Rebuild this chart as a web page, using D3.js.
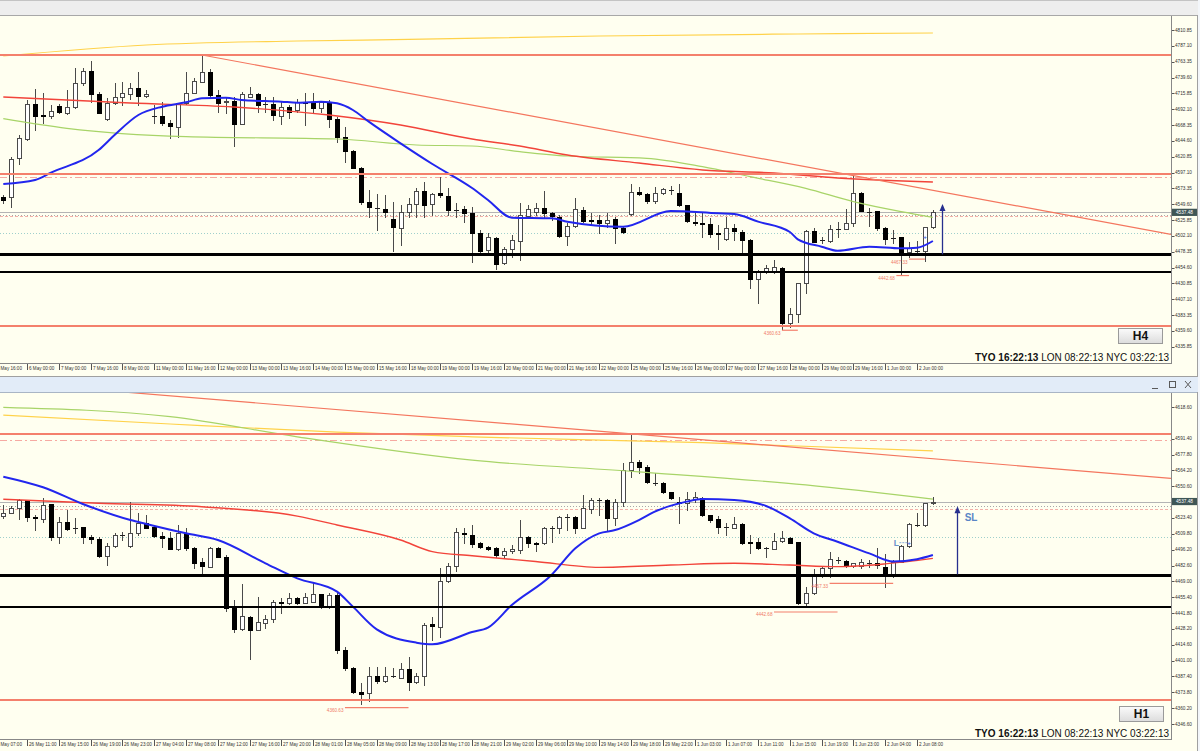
<!DOCTYPE html>
<html><head><meta charset="utf-8">
<script src="https://cdn.jsdelivr.net/npm/d3@7"></script>
<style>
body{margin:0;background:#f0f0f0;overflow:hidden}
svg{display:block}
text{font-family:"Liberation Sans",Arial,sans-serif}
</style></head>
<body><svg id="c" width="1200" height="751"></svg>
<script>
// ---------------- DATA ----------------
// XAUUSD H4 candles [open, high, low, close]
const topOHLC = [
[4560,4563.5,4552,4556],[4560,4621,4546,4617.5],[4618.5,4653.5,4610,4648.5],[4647.5,4706,4646,4700],
[4700,4722,4661,4682],[4683,4717,4671,4682],[4682.5,4698.5,4678.5,4690],[4697,4699.5,4686,4687.5],
[4687,4721,4685,4696],[4696,4753.5,4693.5,4731],[4732,4753.5,4728.5,4749.5],[4749.5,4764.5,4703.5,4715],
[4715,4718.5,4686,4687],[4677.5,4708.5,4676,4702],[4701,4732,4700,4711],[4711,4733.5,4698.5,4716],
[4715,4731,4707,4723.5],[4723.5,4748.5,4698.5,4712],[4712,4721,4710,4715],[4682,4698.5,4671,4681.5],
[4682,4703.5,4668.5,4671],[4671,4676,4648.5,4667],[4666,4701,4650,4700],[4701,4747.5,4700,4716],
[4716,4738.5,4716,4734.5],[4733.5,4773.5,4733.5,4748.5],[4748.5,4752,4711,4713.5],[4713.5,4721,4688.5,4702],
[4702.5,4711,4686,4705],[4705,4711,4637,4670],[4670,4718.5,4670,4714.5],[4711,4726,4710,4714.5],
[4714.5,4716,4688.5,4698.5],[4700,4711,4688.5,4699.5],[4700,4710,4676,4683.5],[4682.5,4703.5,4670,4695],
[4695,4698.5,4678.5,4688.5],[4691,4707,4688.5,4703.5],[4703.5,4716,4668.5,4701],[4701,4717,4688.5,4693.5],
[4693.5,4705,4688.5,4702.5],[4702.5,4706,4666,4677.5],[4677.5,4681,4643.5,4651],[4651,4665,4613.5,4629.5],
[4629.5,4631,4603.5,4604.5],[4604.5,4606,4550,4552.5],[4552.5,4571,4531,4545],[4544,4565,4511,4543.5],
[4543,4563.5,4531,4538.5],[4528,4553.5,4480,4515],[4513.5,4548.5,4488.5,4538.5],[4538.5,4558.5,4530,4549.5],
[4549.5,4573.5,4531,4570],[4570,4583.5,4531,4548.5],[4549.5,4566,4533.5,4565],[4567,4590,4561,4563],
[4562,4573.5,4533.5,4541],[4541,4551,4530,4540.5],[4542,4547,4523.5,4536],[4536,4546,4463.5,4507],
[4507,4511,4478.5,4480],[4481,4507,4476,4500],[4499,4501,4452,4460],[4461,4486,4460,4482.5],
[4482.5,4503.5,4471,4496],[4494.5,4551,4466,4533.5],[4532.5,4548.5,4528.5,4542],[4537.5,4551,4533.5,4544.5],
[4543.5,4570,4531,4537],[4537,4538.5,4526,4532],[4531,4533.5,4501,4502.5],[4502.5,4521,4488.5,4517.5],
[4517.5,4558.5,4515,4542],[4541,4546,4523.5,4525],[4525.5,4536,4518.5,4525],[4526,4533.5,4506,4521],
[4521,4536,4516,4526],[4527,4531,4491,4513.5],[4513.5,4516,4506,4508.5],[4535,4579.5,4533.5,4568.5],
[4568.5,4576,4563.5,4564.5],[4564.5,4566,4551,4555],[4555,4576,4551,4567],[4567,4573.5,4565,4572],
[4571,4577,4565,4570.5],[4566,4579.5,4547.5,4548.5],[4548.5,4548.5,4523.5,4524.5],[4522.5,4538.5,4518.5,4522],
[4522,4538.5,4501,4520.5],[4519.5,4528.5,4501,4504.5],[4506,4518.5,4482.5,4505.5],[4497.5,4531,4496,4514.5],
[4513.5,4519.5,4496,4509.5],[4508.5,4511,4476,4496],[4496,4497,4423.5,4438],[4438,4451,4401,4448.5],
[4449.5,4458.5,4446,4454.5],[4450,4466,4446,4455],[4454.5,4456,4362,4371],[4371,4394.5,4366,4385],
[4385,4431,4373.5,4431],[4431,4511,4417,4510],[4509.5,4513.5,4493.5,4493.5],[4496,4501,4491,4495.5],
[4494.5,4518.5,4492.5,4512],[4513,4523.5,4501,4512.5],[4513,4542,4512,4522],[4521,4595,4517.5,4566],
[4566,4567.5,4540,4540],[4538.5,4543.5,4517.5,4538],[4539.5,4540,4511,4513.5],[4513.5,4515,4490,4497],
[4499.5,4511,4491,4499],[4501,4501,4443,4478.5],[4478.5,4493.5,4471,4484.5],[4480,4494.5,4477,4479.5],
[4480,4516,4465,4516],[4516,4541,4514.5,4537.48]
];
// XAUUSD H1 candles [open, high, low, close]
const bottomOHLC = [
[4525.4,4534.5,4523.1,4527.4],[4527.9,4533.7,4527.4,4531.6],[4531.6,4539.4,4522.2,4538.8],[4538.8,4538.8,4521.1,4523.9],
[4523.9,4525.9,4513.1,4523.1],[4522.2,4540.2,4520.2,4534.5],[4535.1,4535.4,4504.5,4507.3],[4506.8,4523.9,4501.6,4520.2],
[4520.2,4530.2,4513.1,4513.9],[4515.1,4523.1,4510.2,4514.8],[4515.3,4515.9,4502.2,4506.8],[4506.8,4508.8,4502.2,4505.1],
[4505.1,4507.3,4490.2,4491.0],[4491.0,4501.6,4483.0,4499.3],[4499.3,4510.2,4498.8,4509.1],[4508.8,4511.6,4504.5,4508.5],
[4499.3,4537.4,4498.8,4510.8],[4510.8,4527.4,4508.8,4519.4],[4519.4,4525.9,4514.5,4515.1],[4515.3,4517.3,4507.3,4507.9],
[4507.9,4511.6,4498.8,4505.9],[4505.9,4511.6,4496.5,4496.8],[4496.8,4517.3,4495.9,4510.2],[4510.2,4514.5,4495.9,4497.3],
[4497.3,4498.8,4480.2,4485.0],[4485.3,4488.7,4475.9,4482.5],[4481.6,4498.8,4481.6,4497.9],[4497.9,4498.8,4490.2,4490.2],
[4490.2,4491.6,4443.8,4445.9],[4445.9,4453.0,4425.8,4428.1],[4428.1,4466.7,4427.3,4439.3],[4438.7,4439.3,4402.1,4427.3],
[4427.3,4455.3,4427.3,4434.4],[4433.6,4440.1,4428.7,4436.7],[4436.7,4453.0,4434.4,4451.0],[4451.0,4454.4,4441.6,4450.7],
[4450.1,4458.7,4449.6,4454.4],[4454.4,4455.9,4449.6,4450.7],[4450.7,4458.7,4450.1,4455.9],[4451.6,4467.3,4451.6,4458.1],
[4457.9,4458.1,4445.9,4446.7],[4446.7,4458.7,4445.9,4457.3],[4457.3,4458.7,4407.2,4410.1],[4410.1,4413.0,4392.9,4394.4],
[4394.4,4395.8,4372.9,4374.4],[4374.4,4381.5,4364,4372.3],[4372.9,4395.8,4366,4387.8],[4387.8,4395.8,4381.5,4383.8],
[4383.8,4395.8,4382.9,4387.8],[4387.8,4394.4,4387.2,4387.5],[4386.4,4398.7,4385.8,4393.5],[4393.5,4403.8,4375.8,4382.9],
[4382.9,4390.1,4381.5,4387.8],[4387.8,4433.5,4380.1,4431.5],[4432.4,4438.7,4418.7,4430.7],[4429.5,4480.2,4421.5,4469.3],
[4469.3,4484.5,4468.7,4482.5],[4482.5,4514.5,4478.2,4511.1],[4510.8,4514.5,4501.6,4509.3],[4508.8,4517.3,4498.8,4501.0],
[4501.6,4503.0,4497.3,4498.2],[4498.2,4499.3,4495.9,4496.5],[4497.6,4498.8,4490.2,4491.3],[4491.3,4497.3,4490.2,4495.3],
[4495.3,4500.2,4493.0,4496.5],[4495.9,4521.6,4493.0,4506.8],[4506.8,4507.9,4498.8,4501.6],[4501.6,4503.0,4495.3,4501.3],
[4501.6,4515.9,4501.0,4514.5],[4515.1,4516.5,4503.0,4514.8],[4515.1,4525.1,4510.8,4523.9],[4524.5,4526.8,4513.1,4524.2],
[4524.5,4525.1,4510.8,4515.1],[4515.1,4543.1,4514.5,4531.6],[4531.1,4540.8,4527.4,4538.8],[4538.8,4540.2,4525.9,4538.5],
[4538.8,4539.4,4513.1,4523.1],[4523.1,4539.4,4517.4,4537.4],[4537.4,4570.8,4533.7,4564.5],[4564.5,4596.0,4558.2,4571.7],
[4571.7,4573.1,4561.7,4567.4],[4567.4,4568.8,4553.1,4554.0],[4553.7,4561.7,4551.7,4553.4],[4553.1,4554.5,4544.5,4545.4],
[4545.4,4546.0,4539.7,4540.2],[4537.4,4541.7,4518.8,4535.9],[4535.9,4546.0,4530.2,4539.4],[4539.4,4546.0,4537.4,4541.1],
[4540.8,4541.7,4525.1,4525.9],[4525.9,4525.9,4520.2,4521.6],[4522.2,4525.1,4510.2,4515.9],[4515.9,4519.4,4508.8,4515.6],
[4514.5,4524.5,4514.5,4518.2],[4518.2,4519.4,4501.0,4501.6],[4502.5,4508.8,4493.0,4502.2],[4503.0,4505.9,4496.5,4497.3],
[4497.9,4498.8,4490.2,4497.6],[4496.5,4510.8,4496.5,4503.9],[4503.9,4512.5,4503.0,4505.9],[4505.9,4506.8,4501.6,4502.2],
[4502.5,4503.0,4449.6,4450.1],[4450.1,4464.4,4448.7,4458.7],[4458.7,4479.3,4458.1,4474.5],[4474.5,4481.6,4473.0,4480.2],
[4480.2,4494.5,4473.0,4487.9],[4487.3,4490.2,4484.5,4487.0],[4486.7,4487.3,4481.6,4482.5],[4482.5,4485.0,4481.6,4484.5],
[4482.2,4487.9,4480.2,4485.9],[4485.0,4487.3,4481.6,4484.7],[4484.5,4497.3,4480.2,4483.0],[4481.6,4492.5,4463.9,4474.5],
[4475.3,4487.3,4473.0,4485.9],[4485.9,4500.2,4485.9,4499.3],[4499.3,4518.8,4498.8,4517.9],[4517.4,4527.4,4516.5,4517.1],
[4517.1,4536.5,4516.5,4535.9],[4535.9,4541.7,4535.4,4537.48]
];

// moving averages, read as [bar, value]
const topYellowMA = [[0,4772],[18,4788.5],[37,4794.5],[51,4796.8],[75,4802],[100,4805],[117,4806.5]];
const topGreenMA  = [[0,4678],[8,4663.5],[23,4651],[42,4647.5],[52,4638.5],[59,4637],[65,4628.5],[71,4622],[81,4618.5],[88,4606],[94,4591],[101,4573.5],[107,4553.5],[113,4538.5],[117,4530]];
const topRedMA    = [[0,4710.5],[16,4701.5],[29,4695.5],[41,4683.5],[50,4668.5],[59,4647.5],[65,4637],[71,4623.5],[80,4611.5],[88,4601],[97,4596.5],[105,4589],[117,4583]];
const topBlueMA   = [[0,4580],[4,4586],[6,4597],[12,4631],[14,4653.5],[17,4683.5],[20,4696],[23,4702.5],[25,4708.5],[28,4709.5],[30,4706],[35,4703.5],[37,4702],[40,4703.5],[42,4701],[44,4691],[46,4673.5],[50,4641],[54,4610],[59,4574],[61,4556],[64,4529.5],[69,4528.5],[71,4523.5],[78,4516],[84,4539.5],[90,4536],[92,4535],[95,4523.5],[99,4508],[100,4497],[103,4486],[105,4480],[109,4486],[113,4483.5],[115,4484.5],[117,4494.5]];

const bottomYellowMA = [[0,4611.7],[21,4604],[42,4597],[59,4593],[88,4588],[117,4581]];
const bottomGreenMA  = [[0,4618.3],[21,4610.3],[37,4593],[59,4573],[80,4563],[101,4551.7],[117,4539.5]];
const bottomRedMA    = [[0,4539.4],[12,4536],[25,4533],[37,4525],[42,4517.4],[50,4504.5],[54,4494.5],[59,4491],[67,4486],[75,4481],[84,4483],[92,4484.5],[99,4483],[105,4481.6],[111,4484],[117,4488.7]];
const bottomBlueMA   = [[0,4558.8],[5,4549.7],[10,4535.4],[16,4521.6],[18,4518.2],[23,4510.2],[27,4504.5],[33,4484.5],[37,4471.6],[42,4460.2],[44,4447.3],[47,4427.8],[52,4416.4],[54,4415],[59,4425.5],[61,4429.3],[64,4448.7],[69,4474.5],[72,4497.3],[75,4510.2],[77,4513],[80,4521.6],[82,4528.8],[86,4537.4],[88,4539.7],[92,4538.8],[96,4533.7],[99,4523],[102,4510.2],[105,4503],[109,4493],[112,4486],[115,4488],[117,4491.6]];

// trend lines [bar, price] anchors
const topTrendLine = [[25,4773.5],[117,4570.5]];
const bottomTrendLine = [[27,4624.8],[117,4574.2]];

// horizontal levels
const redLevels = [4773.5, 4595.3, 4367.0];
const pinkDashLevels = [4590.6];
const blackLevelsMain = [4474.5];
const blackLevelsSecond = [4447.3];
const bidPrice = 4537.48;
const greyDotLevels = [4533.5];
const pinkDotLevels = [4531.3];
const tealDotLevels = [4506.7];

// swing low labels
const topLows = [{price:4360.63,from:98,to:100},{price:4442.68,from:112.4,to:114},{price:4467.33,from:114,to:116}];
const bottomLows = [{price:4360.63,from:43,to:51},{price:4442.68,from:97,to:105},{price:4467.33,from:104,to:112}];

// annotations
const topArrow = {bar:118.1, from:4474.5, to:4550};
const bottomArrow = {bar:120, from:4475, to:4533.5};
const bottomSL = {bar:121, price:4524, text:"SL"};
const bottomL = {bar:112.4, price:4502.2, text:"L"};
const topDot = {bar:116, price:4501};

// axis labels (first label is cut by the left edge in the original: only its visible part is kept)
const topTimeLabels = ["May 16:00","6 May 00:00","7 May 00:00","7 May 16:00","8 May 00:00","11 May 00:00","11 May 16:00","12 May 00:00","13 May 00:00","13 May 16:00","14 May 00:00","15 May 00:00","15 May 16:00","18 May 00:00","19 May 00:00","19 May 16:00","20 May 00:00","21 May 00:00","21 May 16:00","22 May 00:00","25 May 00:00","25 May 16:00","26 May 00:00","27 May 00:00","27 May 16:00","28 May 00:00","29 May 00:00","29 May 16:00","1 Jun 00:00","2 Jun 00:00"];
const bottomTimeLabels = ["May 07:00","26 May 11:00","26 May 15:00","26 May 19:00","26 May 23:00","27 May 04:00","27 May 08:00","27 May 12:00","27 May 16:00","27 May 20:00","28 May 01:00","28 May 05:00","28 May 09:00","28 May 13:00","28 May 17:00","28 May 21:00","29 May 02:00","29 May 06:00","29 May 10:00","29 May 14:00","29 May 18:00","29 May 22:00","1 Jun 03:00","1 Jun 07:00","1 Jun 11:00","1 Jun 15:00","1 Jun 19:00","1 Jun 23:00","2 Jun 04:00","2 Jun 08:00"];
const topPriceTicks = [4810.85,4787.10,4763.35,4739.60,4715.85,4692.10,4668.35,4644.60,4620.85,4597.10,4573.35,4549.60,4525.85,4502.10,4478.35,4454.60,4430.85,4407.10,4383.35,4359.60,4335.85];
const bottomPriceTicks = [4618.60,4591.40,4577.80,4564.20,4550.60,4537.00,4523.40,4509.80,4496.20,4482.60,4469.00,4455.40,4441.80,4428.20,4414.60,4401.00,4387.40,4373.80,4360.20,4346.60];
const clockBold = "TYO 16:22:13";
const clockRest = " LON 08:22:13 NYC 03:22:13";

// ---------------- DRAW ----------------
const svg = d3.select("#c");
const defs = svg.append("defs");
const grad = defs.append("linearGradient").attr("id","tfg").attr("x1",0).attr("y1",0).attr("x2",0).attr("y2",1);
grad.append("stop").attr("offset","0").attr("stop-color","#fbfbfb");
grad.append("stop").attr("offset","1").attr("stop-color","#dcdcdc");

const xs = d3.scaleLinear().domain([0,117]).range([3.3,932.9]);
const AXX = 1171;

// window chrome
svg.append("rect").attr("x",0).attr("y",0).attr("width",1200).attr("height",751).attr("fill","#f0f0f0");
svg.append("rect").attr("x",0).attr("y",0).attr("width",1200).attr("height",16).attr("fill","#eeeeee");
svg.append("line").attr("x1",0).attr("x2",1200).attr("y1",0.5).attr("y2",0.5).attr("stroke","#c4c4c4");
svg.append("line").attr("x1",0).attr("x2",1197).attr("y1",15.5).attr("y2",15.5).attr("stroke","#a8a8a8");
svg.append("rect").attr("x",0).attr("y",376).attr("width",1198).attr("height",17).attr("fill","#e2ecf8");
svg.append("line").attr("x1",0).attr("x2",1198).attr("y1",376.5).attr("y2",376.5).attr("stroke","#a0a0a0");
svg.append("line").attr("x1",0).attr("x2",1198).attr("y1",392.5).attr("y2",392.5).attr("stroke","#a9b5c5");
// window buttons
const ib = svg.append("g").attr("stroke","#5a5a5a").attr("fill","none").attr("stroke-width",1);
ib.append("line").attr("x1",1152).attr("x2",1158).attr("y1",388.5).attr("y2",388.5);
ib.append("rect").attr("x",1169.5).attr("y",381.5).attr("width",6).attr("height",6);
ib.append("line").attr("x1",1185).attr("x2",1191).attr("y1",381).attr("y2",388);
ib.append("line").attr("x1",1191).attr("x2",1185).attr("y1",381).attr("y2",388);

const panels = [
  {ohlc:topOHLC, top:16, bottom:363, dom:[4810.85,4335.85], rng:[30.1,346.77],
   ticks:topPriceTicks, times:topTimeLabels, yellow:topYellowMA, green:topGreenMA, red:topRedMA, blue:topBlueMA,
   trend:topTrendLine, trendBack:false, lows:topLows, tf:"H4", arrow:topArrow, lowDy:3},
  {ohlc:bottomOHLC, top:393, bottom:739, dom:[4618.6,4346.6], rng:[407,724],
   ticks:bottomPriceTicks, times:bottomTimeLabels, yellow:bottomYellowMA, green:bottomGreenMA, red:bottomRedMA, blue:bottomBlueMA,
   trend:bottomTrendLine, trendBack:true, lows:bottomLows, tf:"H1", arrow:bottomArrow, lowDy:2.8}
];

panels.forEach((p,pi)=>{
  const y = d3.scaleLinear().domain(p.dom).range(p.rng);
  const g = svg.append("g");
  g.append("rect").attr("x",0).attr("y",p.top).attr("width",1197).attr("height",(p.bottom+13)-p.top).attr("fill","#fffff0");
  defs.append("clipPath").attr("id","clip"+pi).append("rect").attr("x",0).attr("y",p.top).attr("width",AXX).attr("height",p.bottom-p.top);
  const c = g.append("g").attr("clip-path",`url(#clip${pi})`);
  const ry = v => Math.round(y(v))+0.5;

  const hline = (v,stroke,w,dash)=>{
    const yy = w%2 ? ry(v) : Math.round(y(v));
    const l = c.append("line").attr("x1",0).attr("x2",AXX).attr("y1",yy).attr("y2",yy)
      .attr("stroke",stroke).attr("stroke-width",w);
    if(dash) l.attr("stroke-dasharray",dash);
  };
  // background levels
  hline(bidPrice,"#b4b4b4",1);
  greyDotLevels.forEach(v=>hline(v,"#a8a8a8",1,"1,2"));
  pinkDotLevels.forEach(v=>hline(v,"#f4b0a8",1,"3,2"));
  tealDotLevels.forEach(v=>hline(v,"#9fd0cc",1,"1,2"));
  pinkDashLevels.forEach(v=>hline(v,"#f6aaa2",1,"7,3,2,3"));

  // candles
  const cg = c.append("g");
  p.ohlc.forEach((d,i)=>{
    const [o,h,l,cl] = d;
    const cx = Math.round(xs(i));
    const bull = cl >= o;
    cg.append("line").attr("x1",cx+0.5).attr("x2",cx+0.5).attr("y1",Math.round(y(h))).attr("y2",Math.round(y(l))+1)
      .attr("stroke","#4a4a4a").attr("stroke-width",1);
    const yt = Math.round(y(Math.max(o,cl))), yb = Math.round(y(Math.min(o,cl)));
    if (yb - yt < 1) {
      cg.append("line").attr("x1",cx-2).attr("x2",cx+3).attr("y1",yt+0.5).attr("y2",yt+0.5).attr("stroke","#222");
    } else {
      cg.append("rect").attr("x",cx-1.5).attr("y",yt+0.5).attr("width",4).attr("height",yb-yt)
        .attr("fill",bull?"#ffffff":"#000000").attr("stroke",bull?"#4a4a4a":"#000").attr("stroke-width",1);
    }
  });

  // moving averages
  const line = d3.line().x(d=>xs(d[0])).y(d=>y(d[1])).curve(d3.curveMonotoneX);
  c.append("path").attr("d",line(p.yellow)).attr("fill","none").attr("stroke","#ffd24a").attr("stroke-width",1.2);
  c.append("path").attr("d",line(p.green)).attr("fill","none").attr("stroke","#a8d468").attr("stroke-width",1.2);
  c.append("path").attr("d",line(p.red)).attr("fill","none").attr("stroke","#f2443a").attr("stroke-width",1.4);
  c.append("path").attr("d",line(p.blue)).attr("fill","none").attr("stroke","#2226ee").attr("stroke-width",2);

  // trend line (ray to the right)
  const [a,b] = p.trend;
  const slope = (b[1]-a[1])/(b[0]-a[0]);
  const barEnd = xs.invert(AXX);
  const barStart = p.trendBack ? xs.invert(0) : a[0];
  c.append("line").attr("x1",xs(barStart)).attr("y1",y(a[1]+slope*(barStart-a[0])))
    .attr("x2",xs(barEnd)).attr("y2",y(a[1]+slope*(barEnd-a[0])))
    .attr("stroke","#f4765e").attr("stroke-width",1.2);

  // levels
  redLevels.forEach(v=>hline(v,"#f4806c",2));
  blackLevelsMain.forEach(v=>hline(v,"#000",3));
  blackLevelsSecond.forEach(v=>hline(v,"#000",2));

  // swing-low labels
  p.lows.forEach(m=>{
    c.append("line").attr("x1",xs(m.from)).attr("x2",xs(m.to)).attr("y1",y(m.price)).attr("y2",y(m.price))
      .attr("stroke","#f4806c").attr("stroke-width",1.2);
    c.append("text").attr("x",xs(m.from)-1.5).attr("y",y(m.price)+p.lowDy).attr("text-anchor","end")
      .attr("dominant-baseline","central").attr("font-size",4.6).attr("fill","#f07a68").text(m.price.toFixed(2));
  });

  // arrow
  const ax = Math.round(xs(p.arrow.bar))+0.5;
  g.append("line").attr("x1",ax).attr("x2",ax).attr("y1",y(p.arrow.from)).attr("y2",y(p.arrow.to)+5)
    .attr("stroke","#27308f").attr("stroke-width",1.3);
  g.append("path").attr("d",`M${ax},${y(p.arrow.to)} L${ax-3},${y(p.arrow.to)+7} L${ax+3},${y(p.arrow.to)+7} Z`).attr("fill","#27308f");

  if (pi===0) {
    g.append("text").attr("x",xs(topDot.bar)).attr("y",y(topDot.price)).attr("text-anchor","middle").attr("dominant-baseline","central")
      .attr("font-size",6).attr("font-weight","bold").attr("fill","#3a5fd8").text("+");
  } else {
    g.append("text").attr("x",xs(bottomSL.bar)).attr("y",y(bottomSL.price)).attr("dominant-baseline","central")
      .attr("font-size",10).attr("font-weight","bold").attr("fill","#5a86c6").text(bottomSL.text);
    g.append("text").attr("x",xs(bottomL.bar)).attr("y",y(bottomL.price)).attr("text-anchor","middle").attr("dominant-baseline","central")
      .attr("font-size",8.5).attr("font-weight","bold").attr("fill","#6b93cc").text(bottomL.text);
    g.append("line").attr("x1",xs(bottomL.bar)+3).attr("x2",xs(bottomL.bar+1.4)).attr("y1",y(bottomL.price)).attr("y2",y(bottomL.price))
      .attr("stroke","#8fb0dc").attr("stroke-dasharray","2,1");
    g.append("text").attr("x",xs(bottomL.bar+1.6)).attr("y",y(bottomL.price)).attr("text-anchor","middle").attr("dominant-baseline","central")
      .attr("font-size",6).attr("font-weight","bold").attr("fill","#3a5fd8").text("+");
  }

  // frame
  g.append("line").attr("x1",AXX+0.5).attr("x2",AXX+0.5).attr("y1",p.top).attr("y2",p.bottom+1).attr("stroke","#888");
  g.append("line").attr("x1",0).attr("x2",AXX+1).attr("y1",p.bottom+0.5).attr("y2",p.bottom+0.5).attr("stroke","#888");
  g.append("line").attr("x1",1197.5).attr("x2",1197.5).attr("y1",p.top-1).attr("y2",p.bottom+13).attr("stroke","#a0a0a0");

  // price axis
  p.ticks.forEach(v=>{
    g.append("line").attr("x1",AXX+1).attr("x2",AXX+3.5).attr("y1",ry(v)).attr("y2",ry(v)).attr("stroke","#555");
    g.append("text").attr("x",AXX+4).attr("y",y(v)).attr("dominant-baseline","central").attr("font-size",4.7).attr("fill","#333").text(v.toFixed(2));
  });
  g.append("rect").attr("x",AXX+1).attr("y",y(bidPrice)-3.6).attr("width",25).attr("height",7.2).attr("fill","#3f5656");
  g.append("text").attr("x",AXX+13.5).attr("y",y(bidPrice)).attr("text-anchor","middle").attr("dominant-baseline","central")
    .attr("font-size",4.7).attr("fill","#ffffff").text(bidPrice.toFixed(2));

  // time axis: one label every 4 bars, last label two bars before the newest bar
  p.times.forEach((t,k)=>{
    const bar = -1 + 4*k;
    const tx = Math.round(xs(bar))+0.5;
    if (tx > 0) g.append("line").attr("x1",tx).attr("x2",tx).attr("y1",p.bottom+1).attr("y2",p.bottom+7).attr("stroke","#555");
    g.append("text").attr("x",Math.max(tx+1.5,0.5)).attr("y",p.bottom+6.8).attr("font-size",4.6).attr("fill","#333").text(t);
  });

  // timeframe box
  const bx = pi===0?1118:1119, by = pi===0?328:706;
  g.append("rect").attr("x",bx+0.5).attr("y",by+0.5).attr("width",44).attr("height",15).attr("fill","url(#tfg)").attr("stroke","#9a9a9a");
  g.append("text").attr("x",bx+22.5).attr("y",by+12.3).attr("text-anchor","middle").attr("font-size",12).attr("font-weight","bold").attr("fill","#111").text(p.tf);

  // clock
  const ct = g.append("text").attr("x",1169).attr("y",p.bottom-2.5).attr("text-anchor","end").attr("font-size",10).attr("fill","#111");
  ct.append("tspan").attr("font-weight","bold").text(clockBold);
  ct.append("tspan").text(clockRest);
});
svg.append("rect").attr("x",1198).attr("y",0).attr("width",2).attr("height",751).attr("fill","#f3f6fa");
</script>
</body></html>
